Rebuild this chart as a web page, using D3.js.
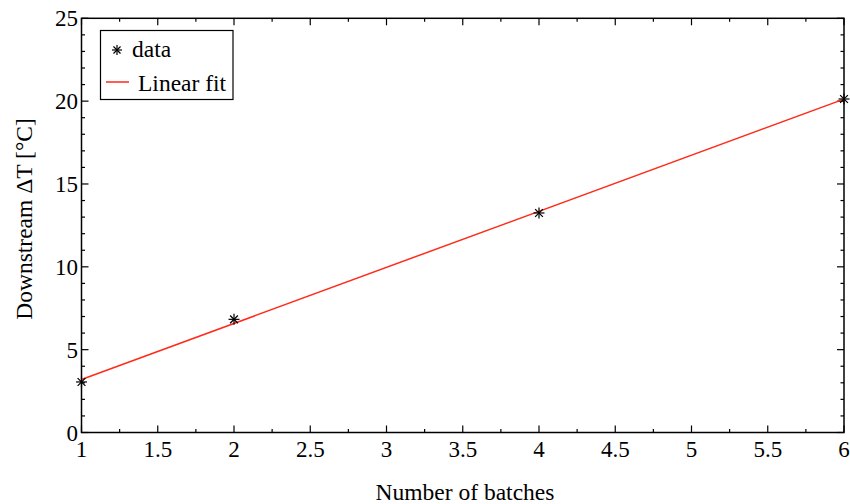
<!DOCTYPE html>
<html><head><meta charset="utf-8">
<script src="https://cdn.jsdelivr.net/npm/d3@7"></script>
<style>body{margin:0;background:#fff}svg{display:block}</style>
</head><body>
<svg id="c" width="850" height="504"></svg>
<script>
const batches = [1, 2, 4, 6];
const deltaT = [3.05, 6.83, 13.25, 20.13];
const fitX = [1, 6];
const fitY = [3.2, 20.12];
const xTicks = [1, 1.5, 2, 2.5, 3, 3.5, 4, 4.5, 5, 5.5, 6];
const yTicks = [0, 5, 10, 15, 20, 25];
const xMinor = d3.range(1, 6.001, 0.25);
const yMinor = d3.range(0, 25.001, 1);

const svg = d3.select("#c");
const L = 81.5, R = 844, T = 18.3, B = 432.5;
const x = d3.scaleLinear().domain([1, 6]).range([L, R]);
const y = d3.scaleLinear().domain([0, 25]).range([B, T]);
const fs = 23.5, fsTick = 23;
const FF = '"Liberation Serif"';

// ticks (inward, on all four sides)
const g = svg.append("g").attr("stroke", "#000").attr("stroke-width", 1.2);
xMinor.forEach(v => {
  const major = xTicks.some(t => Math.abs(t - v) < 1e-9);
  const len = major ? 7 : 3.5;
  g.append("line").attr("x1", x(v)).attr("x2", x(v)).attr("y1", B).attr("y2", B - len);
  g.append("line").attr("x1", x(v)).attr("x2", x(v)).attr("y1", T).attr("y2", T + len);
});
yMinor.forEach(v => {
  const major = yTicks.some(t => Math.abs(t - v) < 1e-9);
  const len = major ? 7 : 3.5;
  g.append("line").attr("y1", y(v)).attr("y2", y(v)).attr("x1", L).attr("x2", L + len);
  g.append("line").attr("y1", y(v)).attr("y2", y(v)).attr("x1", R).attr("x2", R - len);
});
svg.append("rect").attr("x", L).attr("y", T).attr("width", R - L).attr("height", B - T)
  .attr("fill", "none").attr("stroke", "#000").attr("stroke-width", 1.5);

// tick labels
svg.append("g").selectAll("text").data(xTicks).join("text")
  .style("font-family", FF)
  .attr("x", d => x(d)).attr("y", 456.5).attr("text-anchor", "middle")
  .attr("font-size", fsTick).text(d => d3.format("")(d));
svg.append("g").selectAll("text").data(yTicks).join("text")
  .style("font-family", FF)
  .attr("x", 78).attr("y", d => y(d) + 8).attr("text-anchor", "end")
  .attr("font-size", fsTick).text(d => d);

// axis labels
svg.append("text").style("font-family", FF).attr("x", 465).attr("y", 499.5).attr("text-anchor", "middle")
  .attr("font-size", fs).text("Number of batches");
svg.append("text").style("font-family", FF).attr("transform", "translate(32,219) rotate(-90)").attr("text-anchor", "middle")
  .attr("font-size", fs).text("Downstream ΔT [°C]");

// fit line
svg.append("path").datum(fitX.map((v, i) => [v, fitY[i]]))
  .attr("d", d3.line().x(d => x(d[0])).y(d => y(d[1])))
  .attr("fill", "none").attr("stroke", "#ff2a1a").attr("stroke-width", 1.5);

// asterisk marker
function star(sel, cx, cy, r) {
  const gg = sel.append("g").attr("stroke", "#000").attr("stroke-width", 1.2);
  [0, 45, 90, 135].forEach(a => {
    const rad = a * Math.PI / 180;
    gg.append("line").attr("x1", cx - r * Math.cos(rad)).attr("y1", cy - r * Math.sin(rad))
      .attr("x2", cx + r * Math.cos(rad)).attr("y2", cy + r * Math.sin(rad));
  });
}
batches.forEach((b, i) => star(svg, x(b), y(deltaT[i]), 5.5));

// legend
svg.append("rect").attr("x", 100.5).attr("y", 30.5).attr("width", 132.5).attr("height", 69)
  .attr("fill", "#fff").attr("stroke", "#000").attr("stroke-width", 1.2);
star(svg, 117, 50, 5);
svg.append("text").style("font-family", FF).attr("x", 132).attr("y", 57).attr("font-size", fs).text("data");
svg.append("line").attr("x1", 106).attr("x2", 129).attr("y1", 82).attr("y2", 82)
  .attr("stroke", "#ff2a1a").attr("stroke-width", 1.5);
svg.append("text").style("font-family", FF).attr("x", 138).attr("y", 91).attr("font-size", fs).text("Linear fit");
</script>
</body></html>
